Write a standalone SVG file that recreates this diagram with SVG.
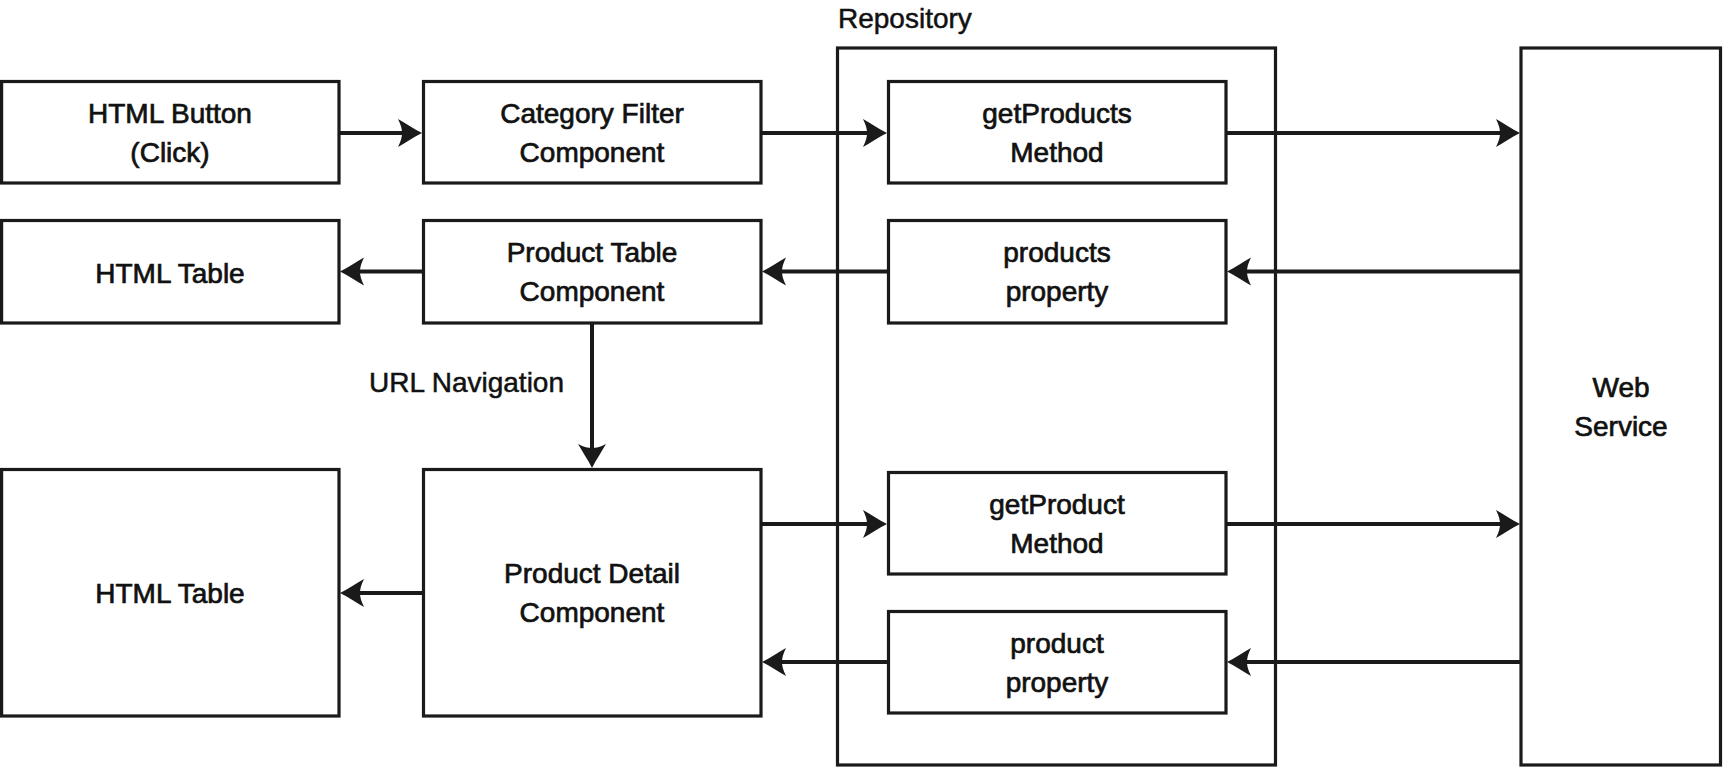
<svg xmlns="http://www.w3.org/2000/svg" width="1725" height="767" viewBox="0 0 1725 767">
<style>
.box{fill:#fff;stroke:#1a1a1a;stroke-width:3.2}
.frame{fill:none;stroke:#1a1a1a;stroke-width:3.2}
.t{font-family:"Liberation Sans",Arial,sans-serif;font-size:28px;fill:#111;stroke:#111;stroke-width:0.7;text-anchor:middle}
.lbl{font-family:"Liberation Sans",Arial,sans-serif;font-size:28px;fill:#111;stroke:#111;stroke-width:0.5}
.c{fill:none;stroke:#1a1a1a;stroke-width:4;marker-end:url(#ah)}
</style>
<defs>
<marker id="ah" markerUnits="userSpaceOnUse" viewBox="-26 -15 27 30" refX="-16" refY="0" markerWidth="27" markerHeight="30" orient="auto" overflow="visible">
<path d="M0,0 C-8,-4 -17,-10 -24,-14 C-21,-8 -20,-4 -20,0 C-20,4 -21,8 -24,14 C-17,10 -8,4 0,0 Z" fill="#1a1a1a"/>
</marker>
</defs>
<g id="repository">
<rect class="frame" x="837.5" y="48" width="438" height="717"/>
<text class="lbl" x="838" y="28">Repository</text>
</g>
<g id="web-service">
<rect class="box" x="1521" y="48" width="199.5" height="717"/>
<text class="t" x="1621" y="397">Web</text>
<text class="t" x="1621" y="436">Service</text>
</g>
<g id="html-button">
<rect class="box" x="1.6" y="81.5" width="337.4" height="101.5"/>
<text class="t" x="170" y="123">HTML Button</text>
<text class="t" x="170" y="162">(Click)</text>
</g>
<g id="category-filter">
<rect class="box" x="423.5" y="81.5" width="337.5" height="101.5"/>
<text class="t" x="592" y="123">Category Filter</text>
<text class="t" x="592" y="162">Component</text>
</g>
<g id="get-products">
<rect class="box" x="888.5" y="81.5" width="337.5" height="101.5"/>
<text class="t" x="1057" y="123">getProducts</text>
<text class="t" x="1057" y="162">Method</text>
</g>
<g id="html-table-1">
<rect class="box" x="1.6" y="220.5" width="337.4" height="102.5"/>
<text class="t" x="170" y="283">HTML Table</text>
</g>
<g id="product-table">
<rect class="box" x="423.5" y="220.5" width="337.5" height="102.5"/>
<text class="t" x="592" y="262">Product Table</text>
<text class="t" x="592" y="301">Component</text>
</g>
<g id="products-property">
<rect class="box" x="888.5" y="220.5" width="337.5" height="102.5"/>
<text class="t" x="1057" y="262">products</text>
<text class="t" x="1057" y="301">property</text>
</g>
<g id="html-table-2">
<rect class="box" x="1.6" y="469.5" width="337.4" height="246.5"/>
<text class="t" x="170" y="603">HTML Table</text>
</g>
<g id="product-detail">
<rect class="box" x="423.5" y="469.5" width="337.5" height="246.5"/>
<text class="t" x="592" y="583">Product Detail</text>
<text class="t" x="592" y="622">Component</text>
</g>
<g id="get-product">
<rect class="box" x="888.5" y="472.5" width="337.5" height="101.5"/>
<text class="t" x="1057" y="514">getProduct</text>
<text class="t" x="1057" y="553">Method</text>
</g>
<g id="product-property">
<rect class="box" x="888.5" y="611.5" width="337.5" height="101.5"/>
<text class="t" x="1057" y="653">product</text>
<text class="t" x="1057" y="692">property</text>
</g>
<g id="connectors">
<line class="c" x1="339" y1="133" x2="406" y2="133"/>
<line class="c" x1="761" y1="133" x2="871" y2="133"/>
<line class="c" x1="1226" y1="133" x2="1504" y2="133"/>
<line class="c" x1="1521" y1="271.5" x2="1243" y2="271.5"/>
<line class="c" x1="888" y1="271.5" x2="778" y2="271.5"/>
<line class="c" x1="423" y1="271.5" x2="356" y2="271.5"/>
<line class="c" x1="592" y1="323" x2="592" y2="452"/>
<line class="c" x1="761" y1="524" x2="871" y2="524"/>
<line class="c" x1="1226" y1="524" x2="1504" y2="524"/>
<line class="c" x1="1521" y1="662" x2="1243" y2="662"/>
<line class="c" x1="888" y1="662" x2="778" y2="662"/>
<line class="c" x1="423" y1="593" x2="356" y2="593"/>
<text class="lbl" x="564" y="392" text-anchor="end">URL Navigation</text>
</g>
</svg>
